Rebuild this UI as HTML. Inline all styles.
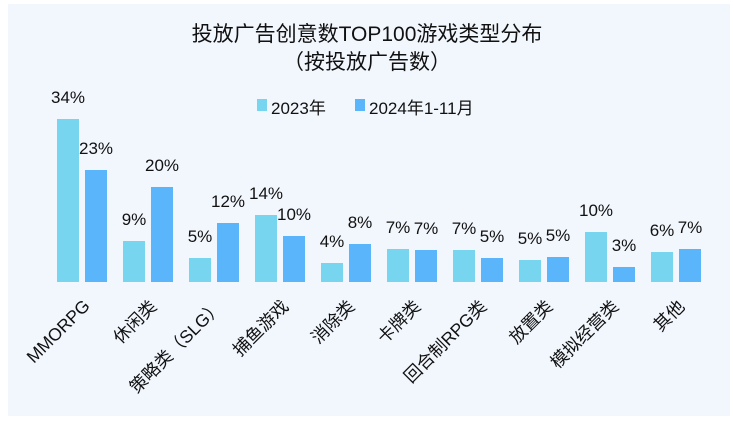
<!DOCTYPE html>
<html><head><meta charset="utf-8"><style>
body{margin:0;width:734px;height:424px;background:#fff;position:relative;overflow:hidden;font-family:"Liberation Sans","Noto Sans CJK SC",sans-serif;color:#111}
#p{position:absolute;left:8px;top:4px;width:722px;height:412px;background:#f2f7fe}
.t{position:absolute;left:0;width:734px;text-align:center;font-size:21px}
.b{position:absolute;width:22px}
.a{background:#78d5ef}.c{background:#5ab5fb}
.v{position:absolute;width:50px;text-align:center;font-size:17px}
.l{position:absolute;font-size:17.5px;white-space:nowrap;transform:translate(-100%,-50%) rotate(-45deg);transform-origin:100% 50%}
</style></head><body>
<div id="p"></div>
<div class="t" style="top:18px">投放广告创意数TOP100游戏类型分布</div>
<div class="t" style="top:46px">（按投放广告数）</div>
<div style="position:absolute;left:257px;top:99px;width:10px;height:12px;background:#78d5ef"></div>
<div style="position:absolute;left:271px;top:94px;font-size:17px">2023年</div>
<div style="position:absolute;left:355px;top:99px;width:10px;height:12px;background:#5ab5fb"></div>
<div style="position:absolute;left:369px;top:94px;font-size:17px">2024年1-11月</div>
<div id="g"></div>
<script>
var a=[[34,23,163,112],[9,20,41,95],[5,12,24,59],[14,10,67,46],[4,8,19,38],[7,7,33,32],[7,5,32,24],[5,5,22,25],[10,3,50,15],[6,7,30,33]];
var n=["MMORPG","休闲类","策略类（SLG）","捕鱼游戏","消除类","卡牌类","回合制RPG类","放置类","模拟经营类","其他"];
var h="",B=282;
a.forEach(function(d,i){var x=57+66*i;
h+='<div class="b a" style="left:'+x+'px;top:'+(B-d[2])+'px;height:'+d[2]+'px"></div>';
h+='<div class="b c" style="left:'+(x+28)+'px;top:'+(B-d[3])+'px;height:'+d[3]+'px"></div>';
h+='<div class="v" style="left:'+(x-14)+'px;top:'+(B-d[2]-31)+'px">'+d[0]+'%</div>';
h+='<div class="v" style="left:'+(x+14)+'px;top:'+(B-d[3]-31)+'px">'+d[1]+'%</div>';
h+='<div class="l" style="left:'+(x+30)+'px;top:303px">'+n[i]+'</div>';});
document.getElementById("g").innerHTML=h;
</script>
</body></html>
